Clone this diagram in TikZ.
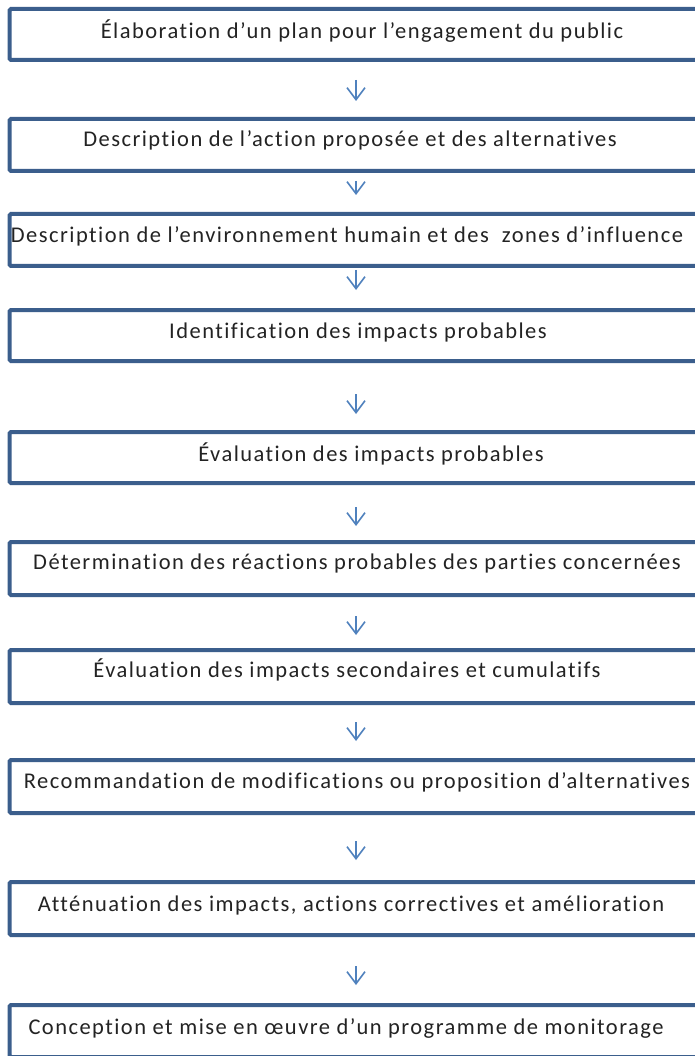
\documentclass[tikz,border=0pt]{standalone}
\usepackage{fontspec}
\setmainfont{Carlito}[LetterSpace=6.5,Ligatures=NoCommon]
\usetikzlibrary{arrows.meta}
\definecolor{boxblue}{RGB}{59,94,140}
\definecolor{arrblue}{RGB}{79,129,189}
\definecolor{txt}{RGB}{35,35,35}
\tikzset{
  stepbox/.style={draw=boxblue, line width=4pt, rounded corners=1.5pt, fill=white,
    minimum width=705pt, inner sep=0pt},
  steptext/.style={anchor=base, text=txt, font=\fontsize{22.5}{26}\selectfont, inner sep=0pt},
  flowarr/.style={draw=arrblue, line width=1.6pt,
    -{Straight Barb[length=12pt,width=18pt,line width=1.6pt]}}
}
\begin{document}
\begin{tikzpicture}[x=1pt,y=-1pt]
\useasboundingbox (0,0) rectangle (694,1056);
\fill[white] (0,0) rectangle (694,1056);
\coordinate (ax) at (356,0);
% boxes
\node[stepbox, minimum height=51pt] (b1) at (362,34.5) {};
\node[stepbox, minimum height=52pt] (b2) at (362,145) {};
\node[stepbox, minimum height=52pt] (b3) at (362,240) {};
\node[stepbox, minimum height=51pt] (b4) at (362,335.5) {};
\node[stepbox, minimum height=51pt] (b5) at (362,457.5) {};
\node[stepbox, minimum height=53pt] (b6) at (362,568.5) {};
\node[stepbox, minimum height=53pt] (b7) at (362,676.5) {};
\node[stepbox, minimum height=53pt] (b8) at (362,786.5) {};
\node[stepbox, minimum height=53pt] (b9) at (362,908.5) {};
\node[stepbox, minimum height=52pt] (b10) at (362,1031) {};
% texts
\node[steptext] (t1) at (362,39) {Élaboration d’un plan pour l’engagement du public};
\node[steptext] (t2) at (350,147) {Description de l’action proposée et des alternatives};
\node[steptext] (t3) at (347,243) {Description de l’environnement humain et des\ \ zones d’influence};
\node[steptext] (t4) at (358,338) {Identification des impacts probables};
\node[steptext] (t5) at (371,461) {Évaluation des impacts probables};
\node[steptext] (t6) at (357,569) {Détermination des réactions probables des parties concernées};
\node[steptext] (t7) at (347,677) {Évaluation des impacts secondaires et cumulatifs};
\node[steptext] (t8) at (357,788) {Recommandation de modifications ou proposition d’alternatives};
\node[steptext] (t9) at (351,911) {Atténuation des impacts, actions correctives et amélioration};
\node[steptext] (t10) at (346,1034) {Conception et mise en œuvre d’un programme de monitorage};
% arrows
\draw[flowarr, shorten <=18pt, shorten >=16pt] (b1.south -| ax) -- (b2.north -| ax);
\draw[flowarr, shorten <=8pt, shorten >=17pt] (b2.south -| ax) -- (b3.north -| ax);
\draw[flowarr, shorten <=2pt, shorten >=18pt] (b3.south -| ax) -- (b4.north -| ax);
\draw[flowarr, shorten <=31pt, shorten >=16pt] (b4.south -| ax) -- (b5.north -| ax);
\draw[flowarr, shorten <=22pt, shorten >=14pt] (b5.south -| ax) -- (b6.north -| ax);
\draw[flowarr, shorten <=19pt, shorten >=13pt] (b6.south -| ax) -- (b7.north -| ax);
\draw[flowarr, shorten <=17pt, shorten >=17pt] (b7.south -| ax) -- (b8.north -| ax);
\draw[flowarr, shorten <=26pt, shorten >=20pt] (b8.south -| ax) -- (b9.north -| ax);
\draw[flowarr, shorten <=29pt, shorten >=18pt] (b9.south -| ax) -- (b10.north -| ax);
\end{tikzpicture}
\end{document}
